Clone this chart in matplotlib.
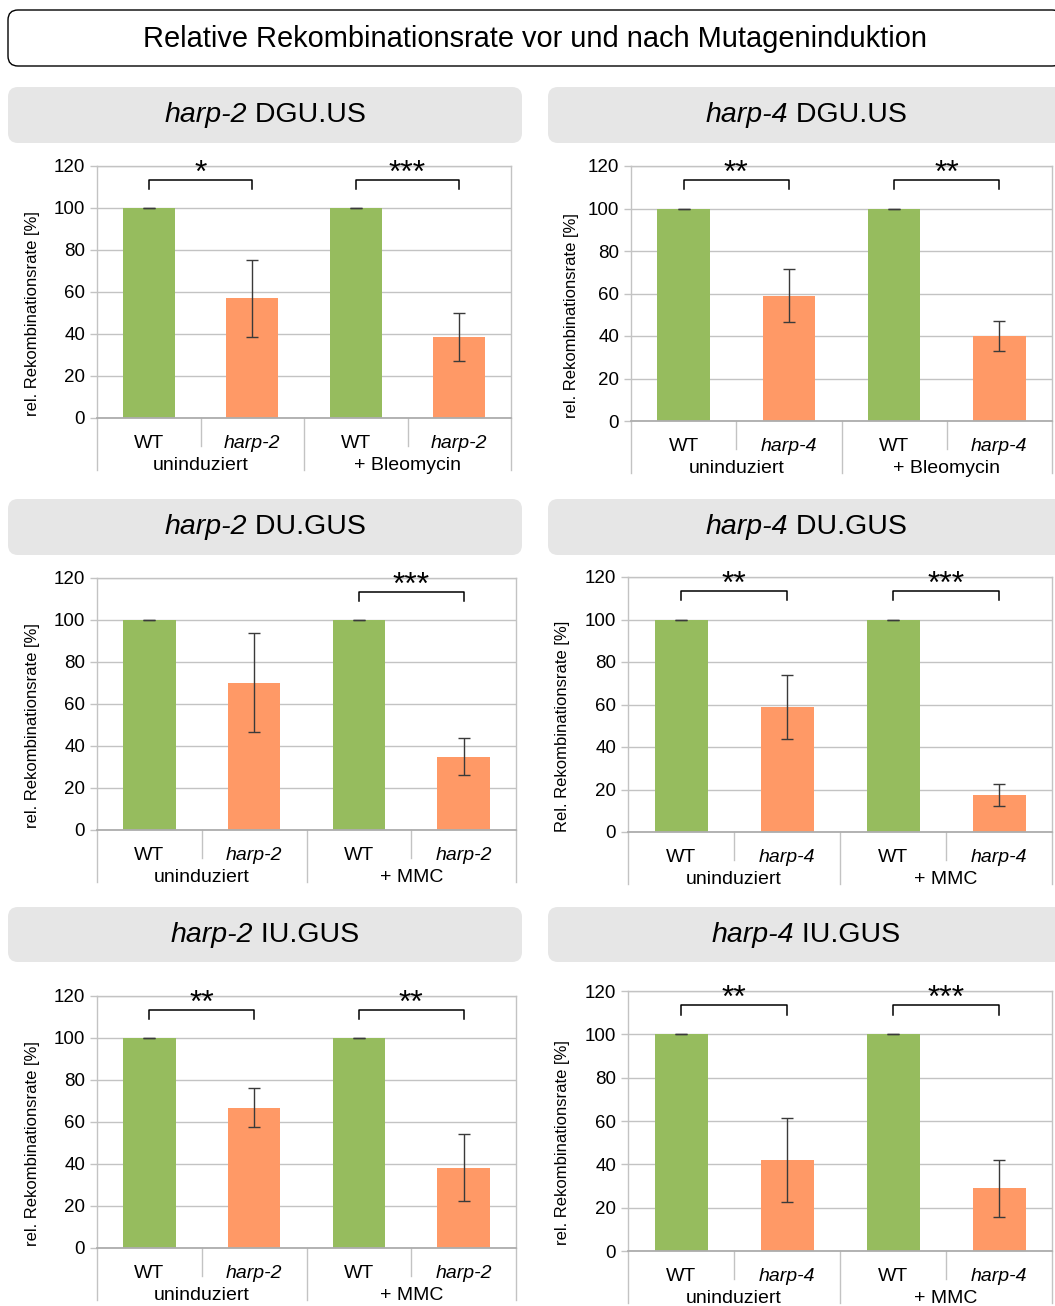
import matplotlib
matplotlib.use("Agg")
import matplotlib.pyplot as plt
from matplotlib.patches import FancyBboxPatch

plt.rcParams['font.family'] = ['Liberation Sans', 'DejaVu Sans']

W, H = 1055, 1306

# one entry per panel: top-left, top-right, middle-left, ... bottom-right
genes = ["harp-2", "harp-4", "harp-2", "harp-4", "harp-2", "harp-4"]
constructs = ["DGU.US", "DGU.US", "DU.GUS", "DU.GUS", "IU.GUS", "IU.GUS"]
treatments = ["+ Bleomycin", "+ Bleomycin", "+ MMC", "+ MMC", "+ MMC", "+ MMC"]
ylabels = ["rel. Rekombinationsrate [%]"] * 3 + ["Rel. Rekombinationsrate [%]"] + ["rel. Rekombinationsrate [%]"] * 2

wt_uninduced = [100, 100, 100, 100, 100, 100]
wt_induced = [100, 100, 100, 100, 100, 100]
mut_uninduced = [57.0, 59.0, 70.2, 58.8, 66.9, 41.8]
mut_uninduced_err = [18.4, 12.3, 23.5, 14.9, 9.2, 19.4]
mut_induced = [38.6, 40.0, 34.9, 17.3, 38.3, 28.9]
mut_induced_err = [11.6, 7.2, 8.7, 5.2, 15.9, 13.2]
sig_uninduced = ["*", "**", "", "**", "**", "**"]
sig_induced = ["***", "**", "***", "***", "**", "***"]
group_labels = ["uninduziert"]

GREEN = "#96bc5e"
ORANGE = "#ff9966"
GRID = "#c3c3c3"

# pixel boxes: axes (x0, y0, x1, y1), header box, y-label centre x
axes_px = [(97, 166, 511, 418), (631, 166, 1052, 421),
           (97, 578, 516, 830), (628, 577, 1052, 832),
           (97, 996, 516, 1248), (628, 991, 1052, 1251)]
header_px = [(8, 87, 522, 143), (548, 87, 1064, 143),
             (8, 499, 522, 555), (548, 499, 1064, 555),
             (8, 907, 522, 962), (548, 907, 1064, 962)]
ylabel_x = [32, 571, 32, 562, 32, 562]

fig = plt.figure(figsize=(W / 100, H / 100), dpi=100)
bg = fig.add_axes([0, 0, 1, 1])
bg.set_xlim(0, W)
bg.set_ylim(H, 0)
bg.axis("off")

renderer = fig.canvas.get_renderer()

# main title box
bg.add_patch(FancyBboxPatch((8, 10), 1054, 56, boxstyle="round,pad=0,rounding_size=10",
                            fc="white", ec="black", lw=1.0))
bg.text(535, 39, "Relative Rekombinationsrate vor und nach Mutageninduktion",
        ha="center", va="center", fontsize=20.9)


def header(box, gene, construct):
    x0, y0, x1, y1 = box
    bg.add_patch(FancyBboxPatch((x0, y0), x1 - x0, y1 - y0,
                                boxstyle="round,pad=0,rounding_size=10",
                                fc="#e6e6e6", ec="none"))
    xc, yc = (x0 + x1) / 2, (y0 + y1) / 2
    t1 = bg.text(0, yc, gene, style="italic", fontsize=20.5, va="center", ha="left")
    t2 = bg.text(0, yc, " " + construct, fontsize=20.5, va="center", ha="left")
    w1 = t1.get_window_extent(renderer).width
    w2 = t2.get_window_extent(renderer).width
    start = xc - (w1 + w2) / 2
    t1.set_x(start)
    t2.set_x(start + w1)


def bracket(ax, x0, x1, stars):
    if not stars:
        return
    ax.plot([x0, x0, x1, x1], [109, 113.5, 113.5, 109], color="black", lw=1.1,
            clip_on=False, zorder=4)
    ax.annotate(stars, ((x0 + x1) / 2, 113.5), xytext=(0, -1.5), textcoords="offset points",
                ha="center", va="baseline", fontsize=23, annotation_clip=False)


for i in range(6):
    x0, y0, x1, y1 = axes_px[i]
    ax = fig.add_axes([x0 / W, 1 - y1 / H, (x1 - x0) / W, (y1 - y0) / H])
    h_px = y1 - y0
    w_px = x1 - x0

    xs = [0, 1, 2, 3]
    vals = [wt_uninduced[i], mut_uninduced[i], wt_induced[i], mut_induced[i]]
    errs = [0, mut_uninduced_err[i], 0, mut_induced_err[i]]
    colors = [GREEN, ORANGE, GREEN, ORANGE]
    ax.bar(xs, vals, width=0.5, color=colors, zorder=2)
    ax.errorbar(xs, vals, yerr=errs, fmt="none", ecolor="#3a3a3a", elinewidth=1.0,
                capsize=4, capthick=1.0, zorder=3)

    ax.set_xlim(-0.5, 3.5)
    ax.set_ylim(0, 120)
    ax.set_yticks(range(0, 121, 20))
    ax.yaxis.grid(True, color=GRID, lw=1.0, zorder=0)
    ax.set_axisbelow(True)
    ax.set_xticks([])
    ax.tick_params(axis="y", labelsize=13.5, length=5, width=1, color=GRID, pad=3.5)
    for s in ax.spines.values():
        s.set_color(GRID)
        s.set_linewidth(1.0)
    ax.spines["bottom"].set_color("#adadad")
    ax.spines["bottom"].set_linewidth(1.3)

    # ylabel anchor is the right edge of the rotated text; centred on plot + category area
    ax.set_ylabel(ylabels[i], fontsize=12)
    ax.yaxis.set_label_coords((ylabel_x[i] + 8 - x0) / w_px, 0.5 - 22 / h_px)

    # two-level category axis below the bars
    trans = ax.get_xaxis_transform()
    long_y = -52 / h_px
    short_y = -28 / h_px
    for xv in [-0.5, 1.5, 3.5]:
        ax.plot([xv, xv], [0, long_y], transform=trans, color=GRID, lw=1.0, clip_on=False)
    for xv in [0.5, 2.5]:
        ax.plot([xv, xv], [0, short_y], transform=trans, color=GRID, lw=1.0, clip_on=False)

    cat_labels = ["WT", genes[i], "WT", genes[i]]
    for xv, lab in zip(xs, cat_labels):
        ax.annotate(lab, (xv, 0), xycoords=trans, xytext=(0, -18.5), textcoords="offset points",
                    ha="center", va="center", fontsize=14,
                    style="normal" if lab == "WT" else "italic")
    for xv, lab in zip([0.5, 2.5], [group_labels[0], treatments[i]]):
        ax.annotate(lab, (xv, 0), xycoords=trans, xytext=(0, -34.5), textcoords="offset points",
                    ha="center", va="center", fontsize=14)

    bracket(ax, 0, 1, sig_uninduced[i])
    bracket(ax, 2, 3, sig_induced[i])

    header(header_px[i], genes[i], constructs[i])

fig.savefig("out.png", dpi=100)
